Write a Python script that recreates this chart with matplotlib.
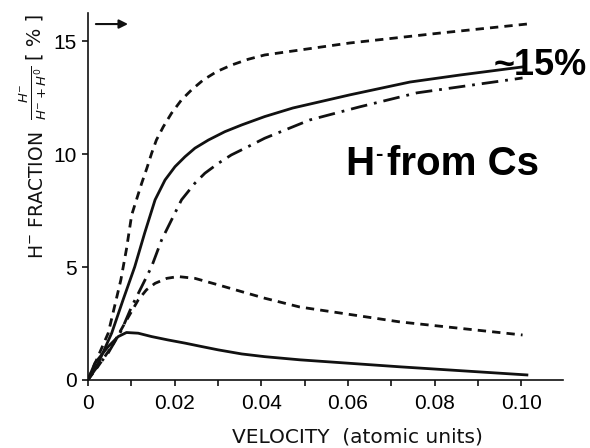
import matplotlib
matplotlib.use("Agg")
import matplotlib.pyplot as plt

# Velocity (atomic units) and H- fraction (%) for the five measured curves
upper_dashed_v = [0.0, 0.0020, 0.0047, 0.0076, 0.0089, 0.0101, 0.0112, 0.0124, 0.0136, 0.0147,
                  0.0158, 0.0174, 0.0193, 0.0216, 0.0239, 0.0266, 0.0297, 0.0331, 0.0370,
                  0.0408, 0.0604, 0.0812, 0.1013]
upper_dashed_f = [0.0, 0.89, 2.08, 4.43, 5.80, 7.31, 7.98, 8.71, 9.38, 10.04,
                  10.63, 11.22, 11.82, 12.41, 12.85, 13.29, 13.66, 13.95, 14.21,
                  14.40, 14.93, 15.37, 15.77]

upper_solid_v = [0.0, 0.0024, 0.0055, 0.0081, 0.0108, 0.0131, 0.0155, 0.0178, 0.0201, 0.0224,
                 0.0247, 0.0278, 0.0316, 0.0355, 0.0408, 0.0473, 0.0604, 0.0743, 0.0858, 0.1003]
upper_solid_f = [0.0, 0.75, 2.08, 3.54, 5.01, 6.51, 7.98, 8.86, 9.45, 9.89,
                 10.27, 10.63, 11.00, 11.30, 11.67, 12.05, 12.63, 13.20, 13.51, 13.87]

dashdot_v = [0.0, 0.0016, 0.0047, 0.0078, 0.0101, 0.0124, 0.0147, 0.0170, 0.0193, 0.0216,
             0.0247, 0.0270, 0.0301, 0.0331, 0.0370, 0.0408, 0.0512, 0.0627, 0.0759, 0.0888, 0.1003]
dashdot_f = [0.0, 0.44, 1.20, 2.22, 3.25, 4.13, 5.02, 6.20, 7.09, 7.98,
             8.72, 9.16, 9.60, 9.97, 10.34, 10.71, 11.52, 12.10, 12.72, 13.07, 13.38]

lower_dashed_v = [0.0, 0.0023, 0.0055, 0.0085, 0.0116, 0.0135, 0.0155, 0.0182, 0.0208, 0.0247,
                  0.0301, 0.0355, 0.0408, 0.0489, 0.0720, 0.1003]
lower_dashed_f = [0.0, 0.59, 1.48, 2.51, 3.54, 3.99, 4.28, 4.50, 4.58, 4.50,
                  4.21, 3.91, 3.62, 3.23, 2.57, 1.99]

lower_solid_v = [0.0, 0.0016, 0.0047, 0.0070, 0.0089, 0.0116, 0.0147, 0.0185, 0.0224, 0.0262,
                 0.0301, 0.0355, 0.0408, 0.0489, 0.0720, 0.1013]
lower_solid_f = [0.0, 0.74, 1.48, 1.92, 2.10, 2.07, 1.92, 1.77, 1.63, 1.48,
                 1.33, 1.15, 1.03, 0.89, 0.58, 0.22]

x_ticks = [0.0, 0.02, 0.04, 0.06, 0.08, 0.10]
x_tick_labels = ["0", "0.02", "0.04", "0.06", "0.08", "0.10"]
y_ticks = [0, 5, 10, 15]
y_tick_labels = ["0", "5", "10", "15"]

tick_family = ["Liberation Sans", "DejaVu Sans"]
bold_family = ["Liberation Sans", "DejaVu Sans"]

fig = plt.figure(figsize=(5.9, 4.48), dpi=100)
ax = fig.add_axes([0.149, 0.152, 0.805, 0.819])

ink = "#111111"
lw = 2.0
ax.plot(upper_dashed_v, upper_dashed_f, color=ink, lw=lw, dashes=(3, 2.2))
ax.plot(upper_solid_v, upper_solid_f, color=ink, lw=lw)
ax.plot(dashdot_v, dashdot_f, color=ink, lw=lw, dashes=(6, 2.5, 1, 2.5))
ax.plot(lower_dashed_v, lower_dashed_f, color=ink, lw=lw, dashes=(3, 2.2))
ax.plot(lower_solid_v, lower_solid_f, color=ink, lw=lw)

ax.set_xlim(0, 0.1096)
ax.set_ylim(0, 16.26)

for side in ("top", "right"):
    ax.spines[side].set_visible(False)
for side in ("left", "bottom"):
    ax.spines[side].set_linewidth(1.2)
    ax.spines[side].set_color(ink)

ax.set_xticks(x_ticks)
ax.set_xticklabels(x_tick_labels, family=tick_family, fontsize=15)
ax.set_xticks([0.01, 0.03, 0.05, 0.07, 0.09], minor=True)
ax.set_yticks(y_ticks)
ax.set_yticklabels(y_tick_labels, family=tick_family, fontsize=15)
ax.tick_params(axis="both", which="both", direction="out", length=4, width=1.2, color=ink)
ax.tick_params(axis="x", pad=6)
ax.tick_params(axis="y", pad=4)

# Arrow marking the saturation level
ax.annotate("", xy=(0.0099, 15.77), xytext=(0.0012, 15.77),
            arrowprops=dict(arrowstyle="-|>", lw=1.5, color=ink, mutation_scale=13))

ax.text(0.1151, 13.5, "~15%", fontsize=26, fontweight="bold", family=bold_family,
        ha="right", va="baseline", color="black")

# "H- from Cs" with a small raised hyphen after the H
h_txt = ax.text(0.0593, 9.08, "H", fontsize=29, fontweight="bold", family=bold_family,
                ha="left", va="baseline", color="black")
ax.annotate("-", xy=(1, 1), xycoords=h_txt, xytext=(0.5, 1), textcoords="offset points",
            fontsize=16, fontweight="bold", family=bold_family, ha="left", va="top",
            color="black")
ax.annotate("from Cs", xy=(1, 0), xycoords=h_txt, xytext=(9, 0), textcoords="offset points",
            fontsize=29, fontweight="bold", family=bold_family, ha="left", va="bottom",
            color="black")

fig.text(0.605, 0.012, "VELOCITY  (atomic units)", fontsize=14.5, family=["DejaVu Sans"],
         ha="center", va="baseline", color=ink)

# Vertical axis title, built from three rotated pieces
fig.text(0.063, 0.565, r"H$^{-}$ FRACTION", fontsize=13.5,
         family=["DejaVu Sans"], rotation=90, ha="center", va="center", color=ink)
fig.text(0.056, 0.792, r"$\frac{H^{-}}{H^{-}+H^{0}}$", fontsize=13.5,
         family=["DejaVu Sans"], rotation=90, ha="center", va="center", color=ink)
fig.text(0.060, 0.917, "[ % ]", fontsize=14,
         family=["DejaVu Sans"], rotation=90, ha="center", va="center", color=ink)

fig.savefig("out.png", dpi=100)
